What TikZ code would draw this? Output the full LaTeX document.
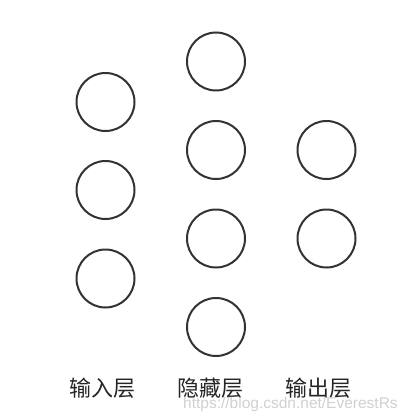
\documentclass[tikz,border=0pt]{standalone}
\usepackage{fontspec}
\setmainfont{Liberation Sans}
\newfontfamily\cjk{Noto Sans CJK SC}
\begin{document}
\begin{tikzpicture}[x=1pt,y=-1pt,
  neuron/.style={circle,draw=black!80,line width=2pt,minimum size=58pt,inner sep=0pt},
  layerlabel/.style={font=\cjk\fontsize{22}{24}\selectfont,text=black!85,inner sep=0pt},
  wm/.style={font=\fontsize{15.5}{17}\selectfont,text=black!18,inner sep=0pt,anchor=west}]
\useasboundingbox[fill=white] (0,0) rectangle (412,417);
\node[neuron] (i1) at (105.5,102) {};
\node[neuron] (i2) at (105.5,190) {};
\node[neuron] (i3) at (105.5,278.5) {};
\node[neuron] (h1) at (216,61.5) {};
\node[neuron] (h2) at (216,150) {};
\node[neuron] (h3) at (216,238.5) {};
\node[neuron] (h4) at (216,327) {};
\node[neuron] (o1) at (326.5,150) {};
\node[neuron] (o2) at (326.5,238.5) {};
\node[layerlabel] (li) at (102,388) {输入层};
\node[layerlabel] (lh) at (210.5,388) {隐藏层};
\node[layerlabel] (lo) at (318,388) {输出层};
\node[wm] (w) at (183,404) {https://blog.csdn.net/EverestRs};
\end{tikzpicture}
\end{document}
